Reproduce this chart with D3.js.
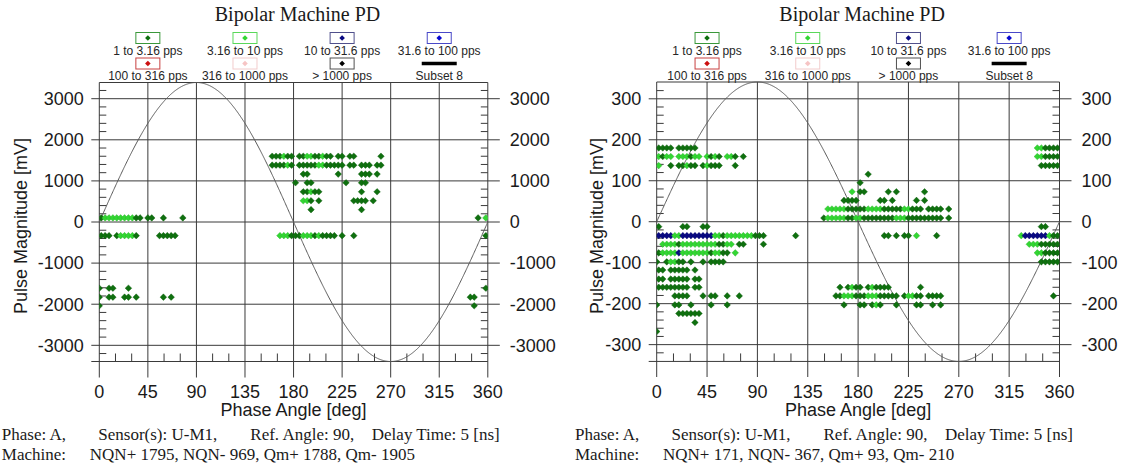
<!DOCTYPE html>
<html>
<head>
<meta charset="utf-8">
<script src="https://cdn.jsdelivr.net/npm/d3@7"></script>
<style>
  html, body { margin: 0; padding: 0; background: #ffffff; }
  svg { display: block; }
  text { font-family: "Liberation Sans", Arial, sans-serif; fill: #1a1a1a; }
  text.serif { font-family: "Liberation Serif", "Times New Roman", serif; }
</style>
</head>
<body>
<svg id="chart" width="1126" height="470"></svg>
<script>
// ---- labels -------------------------------------------------------------
const chartTitle = "Bipolar Machine PD";
const phaseTicks = [0, 45, 90, 135, 180, 225, 270, 315, 360];
const xAxisTitle = "Phase Angle [deg]";
const yAxisTitle = "Pulse Magnitude [mV]";

// pulse-rate classes: key, label
const rateKeys    = ["d", "g", "n", "b", "r", "p", "k"];
const rateLabels  = ["1 to 3.16 pps", "3.16 to 10 pps", "10 to 31.6 pps", "31.6 to 100 pps",
                     "100 to 316 pps", "316 to 1000 pps", "> 1000 pps"];
const subsetLabel = "Subset 8";

// ---- left plot: phase [deg] per magnitude level [mV], rate class per point --
const leftTicks = [-3000, -2000, -1000, 0, 1000, 2000, 3000];
const leftRows = [
  [1600, [160.2,163.8,167.4,171,174.6,178.2, 185.4,189,192.6,196.2,199.8,203.4,207,210.6,214.2, 221.4,225, 232.2,235.8, 261],
         "dddgdd ddggddgdd dd dd d"],
  [1383, [160.2,163.8,167.4,171,174.6,178.2, 185.4,189,192.6,196.2,199.8,203.4,207,210.6,214.2,217.8,221.4,225, 232.2,235.8, 243,246.6,250.2, 257.4,261],
         "ddddgd dddddggddddd dd ddd dd"],
  [1165, [189,192.6, 221.4, 243,246.6,250.2, 257.4], "dd d ddd d"],
  [954,  [181.8, 192.6,196.2, 228.6, 243,246.6], "d dd d dd"],
  [735,  [189,192.6,196.2,199.8,203.4, 243, 257.4], "ddgdd d d"],
  [517,  [189,192.6,196.2, 203.4, 235.8, 239.4,243,246.6, 253.8], "ggd d d ddd d"],
  [300,  [196.2, 243], "d d"],
  [100,  [1.8,5.4,9,12.6,16.2,19.8,23.4,27,30.6,34.2,37.8, 45,48.6, 59.4, 77.4, 351,358.2],
         "dggggggggdd dd d d dg"],
  [-332, [1.8,5.4,9, 16.2, 19.8,23.4,27,30.6,34.2, 55.8,59.4,63,66.6,70.2,
          167.4,171,174.6,178.2,181.8,185.4,189,192.6,196.2,199.8,203.4,207,210.6,214.2,217.8, 225, 235.8, 358.2],
         "ddd d ggggd ddddd gggdddgggdgdddd d d d"],
  [-1610, [0, 9,12.6, 27, 358.2], "d dd d d"],
  [-1828, [0, 9,12.6, 23.4,27, 34.2, 59.4, 66.6, 343.8,347.4], "d dd dd d d d dd"],
  [-2039, [0, 347.4], "d d"]
];
const leftFooter = [
  ["Phase: A,", "Sensor(s): U-M1,", "Ref. Angle: 90,", "Delay Time: 5 [ns]"],
  ["Machine:", "NQN+ 1795, NQN- 969, Qm+ 1788, Qm- 1905"]
];

// ---- right plot --------------------------------------------------------------
const rightTicks = [-300, -200, -100, 0, 100, 200, 300];
const rightRows = [
  [180, [1.8,5.4,9,12.6, 19.8,23.4,27,30.6,34.2, 340.2,343.8,347.4,351,354.6,358.2], "dddd ddddd ggdddd"],
  [159, [1.8,5.4,9,12.6, 19.8,23.4,27,30.6,34.2,37.8, 45,48.6,52.2,55.8, 63,66.6,70.2, 77.4,
         340.2,343.8,347.4,351,354.6,358.2], "gdgg gggdgg gdgd ggd d ggdddd"],
  [137, [1.8, 12.6, 19.8, 23.4,27,30.6,34.2, 41.4,45,48.6,52.2,55.8, 70.2, 343.8,347.4,351,354.6,358.2],
        "g d d dgdd dgddd d ddddd"],
  [116, [189], "d"],
  [95,  [181.8], "d"],
  [73,  [174.6, 181.8,185.4, 207, 214.2, 239.4], "g dd d d d"],
  [52,  [167.4,171,174.6,178.2, 199.8,203.4, 210.6, 232.2, 239.4], "dddd dd d d d"],
  [31,  [153,156.6,160.2,163.8,167.4, 171,174.6,178.2,181.8,185.4, 189,192.6,196.2,199.8,
         203.4,207,210.6,214.2,217.8, 221.4,225, 228.6,232.2,235.8, 243,246.6,250.2,253.8, 261],
        "ggggg ddddd gggg ddddd gg ddd dddd d"],
  [9,   [149.4, 153,156.6,160.2,163.8,167.4, 171,174.6, 178.2,181.8, 185.4,189,192.6,196.2,199.8,203.4,207,210.6,
         214.2,217.8,221.4, 225,228.6,232.2,235.8,239.4,243,246.6,250.2,253.8, 261],
        "d ggggg dd gg dddddddd ggg ddddddddd d"],
  [-12, [1.8, 23.4,27, 41.4,45, 343.8,347.4], "d dd dd dd"],
  [-34, [1.8,5.4,9,12.6, 16.2,19.8, 23.4,27,30.6,34.2,37.8,41.4,45,48.6,
         52.2,55.8,59.4,63,66.6,70.2,73.8,77.4,81,84.6,88.2,91.8,95.4, 124.2,
         203.4,207, 214.2, 221.4,225, 232.2, 250.2, 325.8, 329.4,333,336.6,340.2,343.8,347.4, 351,354.6,358.2],
        "nnnn gg nnnnnnnn ggdgggggggddd d dd d dd g d g nnnnnn gdd"],
  [-55, [5.4,9,12.6,16.2,19.8,23.4,27,30.6,34.2,37.8,41.4,45,48.6,52.2,55.8,59.4,63,66.6, 73.8,77.4, 95.4,
         333,336.6,340.2,343.8,347.4,351,354.6,358.2],
        "ggggdgggggggggddgg dd d gggddddd"],
  [-76, [1.8,5.4,9,12.6,16.2, 19.8, 23.4,27,30.6,34.2,37.8,41.4,45,48.6,52.2,55.8,59.4,63, 70.2,
         340.2,343.8,347.4,351,354.6,358.2],
        "dgggg n gggggggdggdd g ggdddd"],
  [-98, [0, 9,12.6,16.2,19.8,23.4, 30.6, 41.4, 48.6,52.2,55.8,59.4, 343.8,347.4,351,354.6,358.2],
        "d dggdd d d dddd ddddd"],
  [-118, [1.8,5.4, 12.6,16.2,19.8,23.4,27, 34.2], "dd ddddd d"],
  [-140, [1.8,5.4, 12.6,16.2,19.8,23.4,27, 34.2,37.8], "dd ddddd dd"],
  [-160, [1.8,5.4,9,12.6,16.2,19.8,23.4,27, 34.2,37.8, 163.8, 171,174.6,178.2,181.8,
          189,192.6,196.2,199.8,203.4,207, 235.8],
         "dddddddd dd d dgdd dgdddd d"],
  [-181, [16.2,19.8,23.4,27, 41.4, 48.6,52.2, 63, 73.8,
          160.2,163.8,167.4,171,174.6,178.2,181.8,185.4,189,192.6,196.2,199.8,203.4,207,210.6,214.2,
          221.4,225,228.6,232.2,235.8, 243,246.6,250.2,253.8, 354.6],
         "dddd d dd d d ddgggdddgggddddd dggdd dddd d"],
  [-203, [0, 16.2,19.8, 30.6, 48.6, 63, 167.4, 181.8,185.4, 192.6,196.2,199.8, 214.2, 232.2,235.8, 246.6, 253.8],
         "d dd d d d d dd dgd d dd d d"],
  [-224, [19.8,23.4,27,30.6,34.2,37.8], "dddddd"],
  [-246, [34.2], "d"],
  [-268, [0], "d"]
];
const rightFooter = [
  ["Phase: A,", "Sensor(s): U-M1,", "Ref. Angle: 90,", "Delay Time: 5 [ns]"],
  ["Machine:", "NQN+ 171, NQN- 367, Qm+ 93, Qm- 210"]
];

// ---- styling ---------------------------------------------------------------
const markerFill = { d: "#0f700f", g: "#33d633", n: "#0a0a82", b: "#0a0ad0", r: "#cc1010", p: "#f6c4c4", k: "#000000" };
const boxStroke  = { d: "#3a983a", g: "#5ad85a", n: "#50508c", b: "#4848c8", r: "#c84040", p: "#f2cccc", k: "#505050" };
const gridColor = "#3a3a3a";
const legendPhases = [45, 135, 225, 315];   // legend columns sit over these grid lines

const svg = d3.select("#chart");

function diamondPath(r) {
  return `M0,${-r}L${r},0L0,${r}L${-r},0Z`;
}

function drawPanel(cfg, rows, ticks, footer) {
  const g = svg.append("g");
  const x = d3.scaleLinear().domain([0, 360]).range([cfg.x0, cfg.x1]);
  const y = d3.scaleLinear().domain([cfg.vBottom, cfg.vTop]).range([cfg.yBottom, cfg.yTop]);
  const amp = cfg.vTop;               // reference sine touches the frame top
  const plotMid = (cfg.x0 + cfg.x1) / 2;

  // title
  g.append("text").attr("class", "serif")
    .attr("x", plotMid + 4).attr("y", 21)
    .attr("text-anchor", "middle").style("font-size", "20px")
    .text(chartTitle);

  // legend: 4 columns x 2 rows
  const legendItems = rateKeys.map((k, i) => ({ key: k, label: rateLabels[i], i }));
  legendItems.push({ key: "subset", label: subsetLabel, i: 7 });
  legendItems.forEach(it => {
    const col = it.i % 4, row = Math.floor(it.i / 4);
    const cx = x(legendPhases[col]);
    const by = 32.5 + row * 25.5;
    if (it.key === "subset") {
      g.append("line").attr("x1", cx - 17.5).attr("x2", cx + 17.5)
        .attr("y1", by + 5.5).attr("y2", by + 5.5)
        .attr("stroke", "#000").attr("stroke-width", 3.6);
    } else {
      g.append("rect").attr("x", cx - 12).attr("y", by).attr("width", 24).attr("height", 11)
        .attr("fill", "#fff").attr("stroke", boxStroke[it.key]).attr("stroke-width", 1);
      g.append("path").attr("d", diamondPath(2.8))
        .attr("transform", `translate(${cx},${by + 5.5})`)
        .attr("fill", markerFill[it.key]);
    }
    g.append("text").attr("x", cx).attr("y", by + 22)
      .attr("text-anchor", "middle").style("font-size", "12px").style("fill", "#262626")
      .text(it.label);
  });

  // horizontal grid lines with their labels
  ticks.forEach(t => {
    g.append("line").attr("x1", cfg.x0 - 8).attr("x2", cfg.x1 + 12)
      .attr("y1", y(t)).attr("y2", y(t))
      .attr("stroke", gridColor).attr("stroke-width", 1);
  });
  g.selectAll(null).data(ticks).join("text")
    .attr("x", cfg.x0 - 15.5).attr("y", d => y(d) + 6.3)
    .attr("text-anchor", "end").style("font-size", "18px")
    .text(d => d);
  g.selectAll(null).data(ticks).join("text")
    .attr("x", cfg.x1 + 22).attr("y", d => y(d) + 6.3)
    .attr("text-anchor", "start").style("font-size", "18px")
    .text(d => d);

  // vertical grid lines and frame
  phaseTicks.forEach(p => {
    g.append("line").attr("x1", x(p)).attr("x2", x(p))
      .attr("y1", cfg.yTop).attr("y2", cfg.yBottom)
      .attr("stroke", gridColor).attr("stroke-width", 1);
  });
  g.append("line").attr("x1", cfg.x0).attr("x2", cfg.x1)
    .attr("y1", cfg.yTop).attr("y2", cfg.yTop)
    .attr("stroke", gridColor).attr("stroke-width", 1);

  // phase axis line at the sine minimum, with 15 deg minor ticks
  const yAx = y(-amp);
  g.append("line").attr("x1", cfg.x0 - 8).attr("x2", cfg.x1)
    .attr("y1", yAx).attr("y2", yAx)
    .attr("stroke", gridColor).attr("stroke-width", 1);
  d3.range(15, 360, 15).filter(p => p % 45 !== 0).forEach(p => {
    g.append("line").attr("x1", x(p)).attr("x2", x(p))
      .attr("y1", yAx).attr("y2", yAx - 8)
      .attr("stroke", gridColor).attr("stroke-width", 1);
  });

  // minor magnitude ticks on both side axes
  const step = ticks[1] - ticks[0];
  const minorStep = step / 5;
  d3.range(-16, 17).map(i => i * minorStep)
    .filter(v => Math.abs(v / step - Math.round(v / step)) > 1e-6)
    .forEach(v => {
      g.append("line").attr("x1", cfg.x0).attr("x2", cfg.x0 + 7)
        .attr("y1", y(v)).attr("y2", y(v)).attr("stroke", gridColor);
      g.append("line").attr("x1", cfg.x1).attr("x2", cfg.x1 - 7)
        .attr("y1", y(v)).attr("y2", y(v)).attr("stroke", gridColor);
    });

  // phase labels and axis titles
  g.selectAll(null).data(phaseTicks).join("text")
    .attr("x", d => x(d)).attr("y", 398)
    .attr("text-anchor", "middle").style("font-size", "18px")
    .text(d => d);
  g.append("text").attr("x", plotMid).attr("y", 416)
    .attr("text-anchor", "middle").style("font-size", "18px")
    .text(xAxisTitle);
  g.append("text")
    .attr("transform", `translate(${cfg.yTitleX},${cfg.yTitleY}) rotate(-90)`)
    .attr("text-anchor", "middle").style("font-size", "18px")
    .text(yAxisTitle);

  // reference sine
  const sine = d3.line()
    .x(d => x(d))
    .y(d => y(amp * Math.sin(d * Math.PI / 180)));
  g.append("path").datum(d3.range(0, 360.25, 0.5))
    .attr("d", sine).attr("fill", "none")
    .attr("stroke", "#5a5a5a").attr("stroke-width", 1);

  // pulse markers, clipped to the plot frame
  const clipId = "clip" + cfg.id;
  svg.append("clipPath").attr("id", clipId).append("rect")
    .attr("x", cfg.x0).attr("y", cfg.yTop)
    .attr("width", cfg.x1 - cfg.x0).attr("height", cfg.yBottom - cfg.yTop);
  const pts = [];
  rows.forEach(([mag, phases, cls]) => {
    const c = cls.replace(/\s+/g, "");
    phases.forEach((p, i) => pts.push({ phase: p, mag, key: c[i] }));
  });
  g.append("g").attr("clip-path", `url(#${clipId})`)
    .selectAll("path").data(pts).join("path")
    .attr("d", diamondPath(3.3))
    .attr("transform", d => `translate(${x(d.phase)},${y(d.mag)})`)
    .attr("fill", d => markerFill[d.key])
    .attr("stroke", d => d3.color(markerFill[d.key]).darker(0.6))
    .attr("stroke-width", 0.4);

  // footer lines
  footer.forEach((line, li) => {
    const t = g.append("text").attr("class", "serif")
      .attr("y", 439.5 + li * 20).style("font-size", "17px");
    line.forEach((seg, si) => {
      t.append("tspan").attr("x", cfg.footX0 + cfg.footDX[li][si]).text(seg);
    });
  });
}

const footDX = [[0, 96.5, 248.5, 370], [0, 88]];

drawPanel({
  id: "L", x0: 99.3, x1: 487.8, yTop: 82.5, yBottom: 377.5,
  vTop: 3394, vBottom: -3783,
  yTitleX: 27, yTitleY: 226,
  footX0: 1.8, footDX
}, leftRows, leftTicks, leftFooter);

drawPanel({
  id: "R", x0: 656.7, x1: 1059.5, yTop: 82, yBottom: 377,
  vTop: 341, vBottom: -379,
  yTitleX: 603, yTitleY: 226,
  footX0: 575, footDX
}, rightRows, rightTicks, rightFooter);
</script>
</body>
</html>
